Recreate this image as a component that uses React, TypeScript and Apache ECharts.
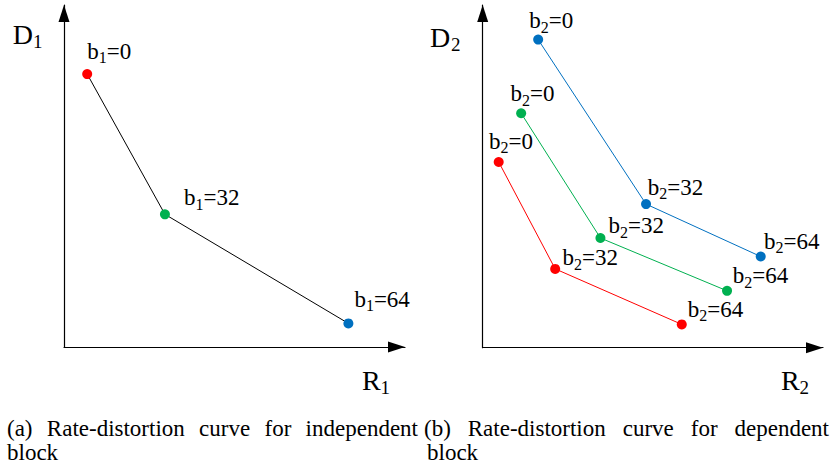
import React, { useEffect, useRef } from 'react';
import * as echarts from 'echarts';

const SERIF = "'Liberation Serif', 'Times New Roman', Times, 'DejaVu Serif', serif";

// bit budget b at each operating point
const budgets = ['0', '32', '64'];

// (a) independent block: rate R1 / distortion D1 per budget
const rateIndependent = [6.8, 29.6, 83.4];
const distIndependent = [79.8, 38.8, 6.9];

// (b) dependent block: one R2/D2 curve per setting of the reference block
const rateDepUpper = [16.3, 48.0, 81.7];
const distDepUpper = [89.9, 41.9, 26.6];
const rateDepMiddle = [11.3, 34.6, 71.8];
const distDepMiddle = [68.4, 32.0, 16.6];
const rateDepLower = [4.7, 21.3, 58.5];
const distDepLower = [54.2, 23.0, 6.8];

const captionA = ['(a)', 'Rate-distortion', 'curve', 'for', 'independent'];
const captionB = ['(b)', 'Rate-distortion', 'curve', 'for', 'dependent'];
const captionTail = 'block';

const RED = '#ff0000';
const GREEN = '#00b050';
const BLUE = '#0070c0';

// label placement: [dx to text start, dy to baseline] from each marker centre
const labelShiftA = [[0, -15], [19, -8.6], [6, -16.6]];
const labelShiftUpper = [[-9, -11], [1.7, -9], [3.3, -7.4]];
const labelShiftMiddle = [[-10.6, -11.6], [8, -4.7], [5.7, -7.4]];
const labelShiftLower = [[-9.7, -12.7], [7.4, -3.3], [6, -7.6]];

const LABEL_SIZE = 23;
const SUB_SIZE = 16;
const MARK = 10;

function curve(
  gridIdx: number,
  rates: number[],
  dists: number[],
  lineColor: string,
  pointColors: string[],
  shifts: number[][],
  sub: string
) {
  const mid = 0.3375 * LABEL_SIZE;
  return {
    type: 'line',
    xAxisIndex: gridIdx,
    yAxisIndex: gridIdx,
    symbol: 'circle',
    symbolSize: MARK,
    silent: true,
    emphasis: { disabled: true },
    lineStyle: { color: lineColor, width: 1 },
    itemStyle: { borderWidth: 0 },
    data: rates.map((r, i) => ({
      value: [r, dists[i]],
      itemStyle: { color: pointColors[i], borderWidth: 0 },
      label: { position: [shifts[i][0] + MARK / 2, shifts[i][1] - mid + MARK / 2] },
    })),
    label: {
      show: true,
      align: 'left',
      verticalAlign: 'middle',
      fontFamily: SERIF,
      formatter: (p: any) => `{m|b}{s|${sub}}{m|=${budgets[p.dataIndex]}}`,
      rich: {
        m: { fontFamily: SERIF, fontSize: LABEL_SIZE, color: '#000', verticalAlign: 'middle' },
        s: {
          fontFamily: SERIF,
          fontSize: SUB_SIZE,
          lineHeight: SUB_SIZE,
          padding: [13, 0, 0, 0],
          color: '#000',
          verticalAlign: 'middle',
        },
      },
    },
  };
}

function axis(gridIndex: number) {
  return {
    gridIndex,
    type: 'value',
    min: 0,
    max: 100,
    axisLine: {
      show: true,
      symbol: ['none', 'triangle'],
      symbolSize: [11, 17],
      symbolOffset: [0, -8.5],
      lineStyle: { color: '#000', width: 1.2 },
    },
    axisTick: { show: false },
    axisLabel: { show: false },
    splitLine: { show: false },
  };
}

function textEl(text: string, x: number, baseline: number, size: number) {
  return {
    type: 'text',
    x,
    y: baseline - 0.3375 * size,
    silent: true,
    style: {
      text,
      font: `${size}px ${SERIF}`,
      fontFamily: SERIF,
      fontSize: size,
      fill: '#000',
      align: 'left',
      verticalAlign: 'middle',
      textAlign: 'left',
      textVerticalAlign: 'middle',
    },
  };
}

function measure(text: string, size: number) {
  const ctx = document.createElement('canvas').getContext('2d')!;
  ctx.font = `${size}px ${SERIF}`;
  return ctx.measureText(text).width;
}

// spread the words of a justified caption line between x0 and x1
function justified(words: string[], x0: number, x1: number, baseline: number, size: number) {
  const widths = words.map((w) => measure(w, size));
  const gap = (x1 - x0 - widths.reduce((a, b) => a + b, 0)) / (words.length - 1);
  let x = x0;
  return words.map((w, i) => {
    const el = textEl(w, x, baseline, size);
    x += widths[i] + gap;
    return el;
  });
}

const CAP_SIZE = 23;
const AXIS_SIZE = 28;
const AXIS_SUB = 19;

function buildOption() {
  return {
    animation: false,
    backgroundColor: '#fff',
    textStyle: { fontFamily: SERIF },
    grid: [
      { left: 64, top: 5, width: 341, height: 342 },
      { left: 482.7, top: 5, width: 340.3, height: 342.7 },
    ],
    xAxis: [axis(0), axis(1)],
    yAxis: [axis(0), axis(1)],
    series: [
      curve(0, rateIndependent, distIndependent, '#000', [RED, GREEN, BLUE], labelShiftA, '1'),
      curve(1, rateDepUpper, distDepUpper, BLUE, [BLUE, BLUE, BLUE], labelShiftUpper, '2'),
      curve(1, rateDepMiddle, distDepMiddle, GREEN, [GREEN, GREEN, GREEN], labelShiftMiddle, '2'),
      curve(1, rateDepLower, distDepLower, RED, [RED, RED, RED], labelShiftLower, '2'),
    ],
    graphic: [
      textEl('D', 12.7, 44.3, AXIS_SIZE),
      textEl('1', 33, 48.3, AXIS_SUB),
      textEl('R', 362, 390, AXIS_SIZE),
      textEl('1', 380.5, 394, AXIS_SUB),
      textEl('D', 430, 46.7, AXIS_SIZE),
      textEl('2', 451, 50.5, AXIS_SUB),
      textEl('R', 781, 390, AXIS_SIZE),
      textEl('2', 799.5, 394, AXIS_SUB),
      ...justified(captionA, 7, 418, 436, CAP_SIZE),
      textEl(captionTail, 7, 460, CAP_SIZE),
      ...justified(captionB, 424, 829, 436, CAP_SIZE),
      textEl(captionTail, 427, 460, CAP_SIZE),
    ],
  };
}

export default function App() {
  const ref = useRef<HTMLDivElement>(null);
  useEffect(() => {
    const chart = echarts.init(ref.current!, null, { renderer: 'svg' });
    chart.setOption(buildOption() as any);
    return () => chart.dispose();
  }, []);
  return (
    <div
      ref={ref}
      style={{ position: 'absolute', left: 0, top: 0, width: 834, height: 466, background: '#fff' }}
    />
  );
}
